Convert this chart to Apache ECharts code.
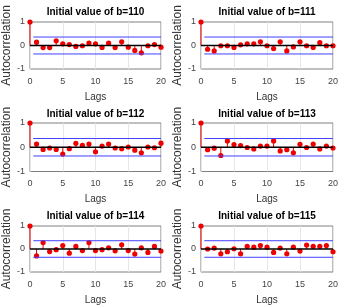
<!DOCTYPE html>
<html>
<head>
<meta charset="utf-8">
<title>echarts</title>
<script src="https://cdn.jsdelivr.net/npm/echarts@6/dist/echarts.min.js"></script>
<style>
  html, body { margin: 0; padding: 0; width: 100%; height: 100%; overflow: hidden; background: #fff; }
  #main { width: 341px; height: 306px; }
</style>
</head>
<body>
<div id="main"></div>
<script>
  // lags and sample autocorrelations
  var lags = [0, 1, 2, 3, 4, 5, 6, 7, 8, 9, 10, 11, 12, 13, 14, 15, 16, 17, 18, 19, 20];
  var titles = ['Initial value of b=110', 'Initial value of b=111', 'Initial value of b=112',
                'Initial value of b=113', 'Initial value of b=114', 'Initial value of b=115'];
  var acf110 = [1, 0.14, -0.09, -0.09, 0.2, 0.07, 0.04, -0.04, -0.01, 0.1, 0.07, -0.08, 0.1, -0.09, 0.16, -0.07, -0.21, -0.31, -0.01, 0.04, -0.07];
  var acf111 = [1, -0.16, -0.23, -0.01, -0.01, -0.08, 0.03, 0.07, 0.07, 0.16, -0.01, -0.13, 0.16, -0.23, -0.06, 0.16, -0.01, -0.08, 0.12, -0.01, -0.01];
  var acf112 = [1, 0.13, -0.09, -0.03, -0.09, -0.28, -0.06, 0.16, 0.08, 0.13, -0.19, 0.05, 0.13, -0.03, -0.06, 0.01, -0.12, -0.23, 0.01, -0.02, 0.17];
  var acf113 = [1, -0.1, -0.04, -0.34, 0.26, 0.11, 0.07, -0.01, -0.07, 0.05, 0.05, 0.26, -0.15, -0.1, -0.23, 0.12, -0.01, 0.13, -0.07, 0.05, -0.03];
  var acf114 = [1, -0.3, 0.28, -0.11, -0.03, 0.15, -0.18, 0.11, -0.07, 0.28, -0.07, -0.03, 0.05, -0.08, 0.18, -0.07, -0.22, 0.05, -0.15, 0.11, -0.09];
  var acf115 = [1, 0, 0.04, -0.21, -0.12, 0.01, -0.21, 0.11, 0.08, 0.15, 0.08, -0.15, 0.04, -0.21, 0.08, -0.09, 0.17, 0.12, 0.12, 0.15, -0.12];
  var allAcf = [acf110, acf111, acf112, acf113, acf114, acf115];
  var confBound = 0.36;
  var boundStart = 0.5;
  var xTicks = [0, 20, 5];   // min, max, interval
  var yTicks = [-1, 1, 1];

  var colLeft = [30, 201], colWidth = [131, 132];
  var rowTop = [22, 123, 226], rowHeight = [47, 48.5, 48.5];
  var titleTop = [7.5, 109.5, 211.5];
  var font = 'Liberation Sans, Arial, sans-serif';

  var grids = [], xAxes = [], yAxes = [], series = [], titleList = [];

  function stem(params, api) {
    var x = api.value(0), v = api.value(1);
    var p0 = api.coord([x, 0]), p1 = api.coord([x, v]);
    return {
      type: 'group',
      children: [
        { type: 'line', shape: { x1: p0[0], y1: p0[1], x2: p1[0], y2: p1[1] }, style: { stroke: '#ee0000', lineWidth: 1 } },
        { type: 'circle', shape: { cx: p1[0], cy: p1[1], r: 2.6 }, style: { fill: '#ee0000' } }
      ]
    };
  }

  for (var i = 0; i < 6; i++) {
    var r = Math.floor(i / 2), c = i % 2;
    grids.push({ left: colLeft[c], top: rowTop[r], width: colWidth[c], height: rowHeight[r],
                 show: true, borderColor: '#808080', borderWidth: 1, backgroundColor: '#fff' });
    titleList.push({ text: titles[i], left: colLeft[c] + colWidth[c] / 2, top: titleTop[r], textAlign: 'center', padding: 0,
                     textStyle: { fontFamily: font, fontSize: 10, fontWeight: 'bold', color: '#000' } });
    xAxes.push({
      type: 'value', gridIndex: i, min: xTicks[0], max: xTicks[1], interval: xTicks[2],
      name: 'Lags', nameLocation: 'middle', nameGap: 23,
      nameTextStyle: { fontFamily: font, fontSize: 10, color: '#333' },
      axisLine: { show: false }, axisTick: { show: false },
      axisLabel: { fontFamily: font, fontSize: 9, color: '#444', margin: 8 },
      splitLine: { show: true, lineStyle: { color: '#e6e6e6', width: 1 } }
    });
    yAxes.push({
      type: 'value', gridIndex: i, min: yTicks[0], max: yTicks[1], interval: yTicks[2],
      name: 'Autocorrelation', nameLocation: 'middle', nameGap: 15,
      nameTextStyle: { fontFamily: font, fontSize: 12, color: '#333' },
      axisLine: { show: false }, axisTick: { show: false },
      axisLabel: { fontFamily: font, fontSize: 9, color: '#444', margin: 5 },
      splitLine: { show: false }
    });
    series.push({ type: 'line', xAxisIndex: i, yAxisIndex: i, symbol: 'none', silent: true,
                  data: [[xTicks[0], 0], [xTicks[1], 0]], lineStyle: { color: '#000', width: 1.4 } });
    series.push({ type: 'line', xAxisIndex: i, yAxisIndex: i, symbol: 'none', silent: true,
                  data: [[boundStart, confBound], [xTicks[1], confBound]], lineStyle: { color: '#4040ff', width: 1 } });
    series.push({ type: 'line', xAxisIndex: i, yAxisIndex: i, symbol: 'none', silent: true,
                  data: [[boundStart, -confBound], [xTicks[1], -confBound]], lineStyle: { color: '#4040ff', width: 1 } });
    series.push({ type: 'custom', xAxisIndex: i, yAxisIndex: i, clip: false, renderItem: stem,
                  data: lags.map(function (l, k) { return [l, allAcf[i][k]]; }) });
  }

  var myChart = echarts.init(document.getElementById('main'), null, { renderer: 'canvas' });
  myChart.setOption({
    animation: false,
    backgroundColor: '#fff',
    title: titleList,
    grid: grids,
    xAxis: xAxes,
    yAxis: yAxes,
    series: series
  });
</script>
</body>
</html>
